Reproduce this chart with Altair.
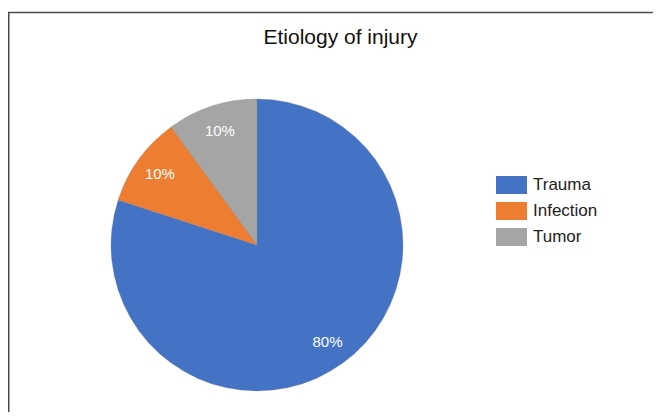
import altair as alt
import pandas as pd

categories = ["Trauma", "Infection", "Tumor"]
values = [80, 10, 10]
labels = ["80%", "10%", "10%"]
colors = ["#4472C4", "#ED7D31", "#A5A5A5"]

df = pd.DataFrame({
    "cause": categories,
    "value": values,
    "label": labels,
    "idx": list(range(len(categories))),
})

W, H = 645, 404
CX, CY, R = 249, 237, 146

base = alt.Chart(df)

pie = base.mark_arc(radius=R, stroke="#7f7f7f", strokeWidth=0.3).encode(
    theta=alt.Theta("value:Q", stack=True),
    order=alt.Order("idx:Q"),
    color=alt.Color(
        "cause:N",
        scale=alt.Scale(domain=categories, range=colors),
        sort=categories,
        legend=alt.Legend(
            title=None,
            orient="none",
            legendX=494.5,
            legendY=168,
            padding=0,
            symbolType="M-1.72,-1H1.72V1H-1.72Z",
            symbolSize=324,
            symbolStrokeWidth=0,
            symbolOpacity=1,
            labelOffset=12.5,
            labelFontSize=17,
            labelFont="Liberation Sans",
            labelColor="#222222",
            rowPadding=8,
        ),
    ),
    x=alt.value(CX),
    y=alt.value(CY),
)

text = base.mark_text(
    radius=120, fontSize=15, font="Liberation Sans", color="white"
).encode(
    theta=alt.Theta("value:Q", stack=True),
    order=alt.Order("idx:Q"),
    text="label:N",
    x=alt.value(CX),
    y=alt.value(CY),
)

frame = alt.Chart(alt.Data(values=[{}]))
top_line = frame.mark_rule(color="#4a4a4a", strokeWidth=1.5).encode(
    x=alt.value(0), x2=alt.value(W), y=alt.value(4.5)
)
left_line = frame.mark_rule(color="#4a4a4a", strokeWidth=1.5).encode(
    x=alt.value(0.75), y=alt.value(4.5), y2=alt.value(H)
)

chart = alt.layer(pie, text, top_line, left_line).properties(
    width=W,
    height=H,
    autosize=alt.AutoSizeParams(type="none"),
    padding=0,
    title=alt.TitleParams(
        "Etiology of injury",
        anchor="middle",
        orient="top",
        offset=0,
        baseline="alphabetic",
        dy=57,
        dx=10,
        fontSize=21,
        fontWeight="normal",
        font="Liberation Sans",
        color="#111111",
    ),
).configure_view(stroke=None)

chart.save("out.html", embed_options={"renderer": "svg", "actions": False})
